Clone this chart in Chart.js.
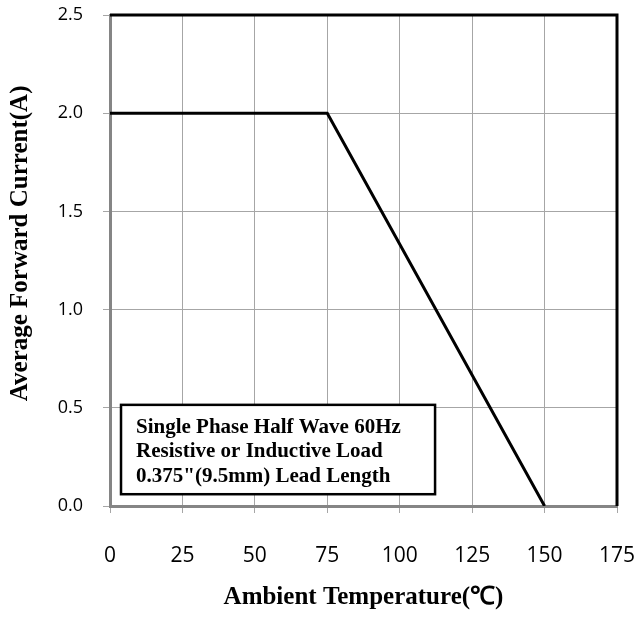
<!DOCTYPE html>
<html>
<head>
<meta charset="utf-8">
<style>
  html, body { margin: 0; padding: 0; background: #ffffff; }
  #wrap { width: 638px; height: 619px; }
</style>
<script src="https://cdn.jsdelivr.net/npm/chart.js@4/dist/chart.umd.min.js"></script>
</head>
<body>
<div id="wrap"><canvas id="c" width="638" height="619"></canvas></div>
<script>
// ---- data ----
const temperatures = [0, 75, 150];          // Ambient Temperature (°C)
const currents = [2.0, 2.0, 0.0];          // Average Forward Current (A)
const xTicks = [0, 25, 50, 75, 100, 125, 150, 175];
const yTicks = [0.0, 0.5, 1.0, 1.5, 2.0, 2.5];
const xTitle = 'Ambient Temperature(\u2103)';
const yTitle = 'Average Forward Current(A)';
const noteLines = [
  'Single Phase Half Wave 60Hz',
  'Resistive or Inductive Load',
  '0.375"(9.5mm) Lead Length'
];

const points = temperatures.map((t, i) => ({ x: t, y: currents[i] }));

const GRID = '#a6a6a6';
const AXIS = '#858585';
const TICKFONT = "'Open Sans', 'Noto Sans', sans-serif";
const SERIF = "'Liberation Serif', 'Times New Roman', serif";

const framePlugin = {
  id: 'frame',
  beforeDatasetsDraw(chart) {
    const { ctx, chartArea: a, scales } = chart;
    ctx.save();
    // top and right black frame
    ctx.strokeStyle = '#000';
    ctx.lineWidth = 3;
    ctx.beginPath();
    ctx.moveTo(a.left, a.top);
    ctx.lineTo(a.right, a.top);
    ctx.lineTo(a.right, a.bottom);
    ctx.stroke();

    // annotation box (anchored in data coordinates)
    const x0 = scales.x.getPixelForValue(3.8);
    const x1 = scales.x.getPixelForValue(112.2);
    const y0 = scales.y.getPixelForValue(0.515);
    const y1 = scales.y.getPixelForValue(0.06);
    ctx.fillStyle = '#fff';
    ctx.fillRect(x0, y0, x1 - x0, y1 - y0);
    ctx.lineWidth = 2.5;
    ctx.strokeStyle = '#000';
    ctx.strokeRect(x0, y0, x1 - x0, y1 - y0);
    ctx.fillStyle = '#000';
    ctx.font = 'bold 21px ' + SERIF;
    ctx.textAlign = 'left';
    ctx.textBaseline = 'alphabetic';
    noteLines.forEach((s, i) => {
      ctx.fillText(s, x0 + 15, y0 + 28 + i * 24.5);
    });
    ctx.restore();
  },
  afterDraw(chart) {
    // y-axis title, placed like the reference (slightly above centre)
    const { ctx, chartArea: a } = chart;
    ctx.save();
    ctx.translate(21, a.top + (a.bottom - a.top) * 0.465);
    ctx.rotate(-Math.PI / 2);
    ctx.fillStyle = '#000';
    ctx.font = 'bold 25px ' + SERIF;
    ctx.textAlign = 'center';
    ctx.textBaseline = 'middle';
    ctx.fillText(yTitle, 0, 0);
    ctx.restore();
  }
};

new Chart(document.getElementById('c'), {
  type: 'line',
  data: {
    datasets: [{
      data: points,
      borderColor: '#000',
      borderWidth: 3,
      pointRadius: 0,
      fill: false,
      tension: 0
    }]
  },
  options: {
    responsive: false,
    animation: false,
    devicePixelRatio: 1,
    layout: { padding: { left: 0, right: 21, top: 15, bottom: 0 } },
    plugins: { legend: { display: false }, tooltip: { enabled: false } },
    scales: {
      x: {
        type: 'linear',
        min: xTicks[0],
        max: xTicks[xTicks.length - 1],
        afterBuildTicks(scale) { scale.ticks = xTicks.map(v => ({ value: v })); },
        afterFit(scale) {
          scale.height = 113;
          scale.paddingLeft = 0; scale.paddingRight = 0;
          scale.paddingTop = 0; scale.paddingBottom = 0;
        },
        grid: { color: GRID, lineWidth: 1, tickLength: 7, tickColor: GRID },
        border: { color: AXIS, width: 3 },
        ticks: {
          color: '#000',
          font: { family: TICKFONT, size: 21 },
          padding: 30,
          maxRotation: 0,
          callback: v => String(v)
        },
        title: {
          display: true,
          text: xTitle,
          color: '#000',
          font: { family: SERIF, size: 25, weight: 'bold' },
          padding: { top: 0, bottom: 6 }
        }
      },
      y: {
        type: 'linear',
        min: yTicks[0],
        max: yTicks[yTicks.length - 1],
        afterBuildTicks(scale) { scale.ticks = yTicks.map(v => ({ value: v })); },
        afterFit(scale) {
          scale.width = 110;
          scale.paddingLeft = 0; scale.paddingRight = 0;
          scale.paddingTop = 0; scale.paddingBottom = 0;
        },
        grid: { color: GRID, lineWidth: 1, tickLength: 7, tickColor: GRID },
        border: { color: AXIS, width: 3 },
        ticks: {
          color: '#000',
          font: { family: TICKFONT, size: 18 },
          padding: 20,
          callback: v => Number(v).toFixed(1)
        },
        title: { display: false }
      }
    }
  },
  plugins: [framePlugin]
});
</script>
</body>
</html>
